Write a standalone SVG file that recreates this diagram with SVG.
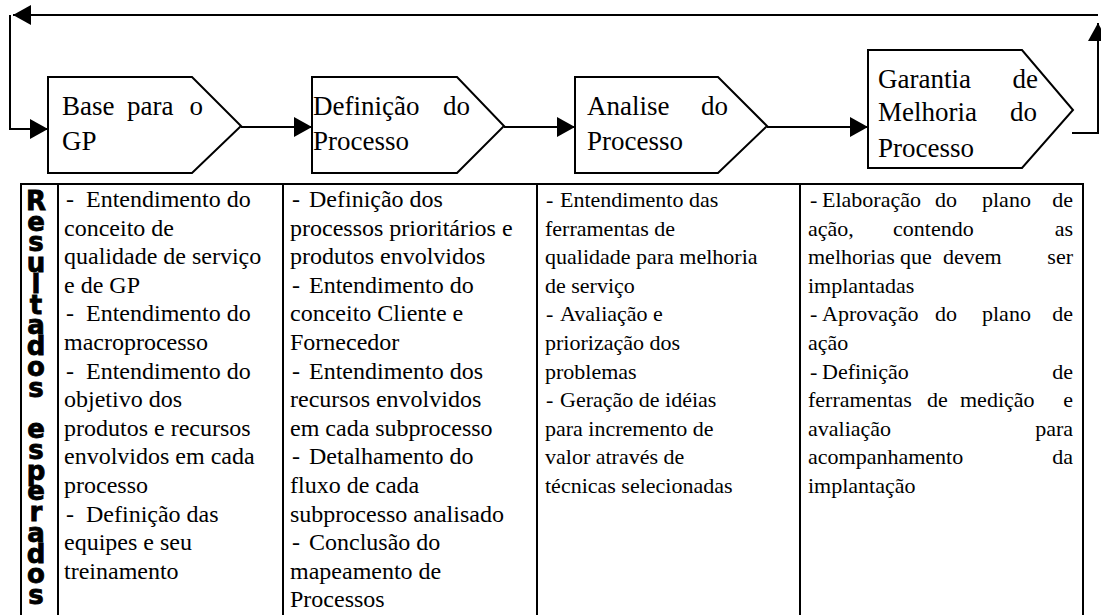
<svg xmlns="http://www.w3.org/2000/svg" width="1101" height="615" viewBox="0 0 1101 615">
<style>
.box{fill:#fff;stroke:#000;stroke-width:2}
.ttl{font-family:"Liberation Serif","Times New Roman",serif;font-size:27px;fill:#000}
.ta{font-family:"Liberation Serif","Times New Roman",serif;font-size:24px;fill:#000}
.tb{font-family:"Liberation Serif","Times New Roman",serif;font-size:22px;fill:#000}
.end{text-anchor:end}
.con{fill:none;stroke:#000;stroke-width:2}
.grid{fill:none;stroke:#000;stroke-width:2}
.vt{font-family:"DejaVu Sans","Liberation Sans",sans-serif;font-weight:bold;font-size:26px;fill:#000;stroke:#000;stroke-width:0.8;writing-mode:vertical-rl;text-orientation:upright}
</style>
<defs>
<marker id="ah" viewBox="0 0 18 20" refX="18" refY="10" markerWidth="18" markerHeight="20" markerUnits="userSpaceOnUse" orient="auto">
<path d="M0,0 L18,10 L0,20 Z" fill="#000"/>
</marker>
</defs>
<rect width="1101" height="615" fill="#fff"/>

<g id="connectors">
<path class="con" d="M1098,15 H13" marker-end="url(#ah)"/>
<path class="con" d="M10,15 V129 H48" marker-end="url(#ah)"/>
<path class="con" d="M241,127 H312" marker-end="url(#ah)"/>
<path class="con" d="M504,127 H575" marker-end="url(#ah)"/>
<path class="con" d="M767,127 H868" marker-end="url(#ah)"/>
<path class="con" d="M1072,133 H1098 V23" marker-end="url(#ah)"/>
</g>

<g id="node-base">
<path class="box" d="M48,77 H192 L241,126 L192,173 H48 Z"/>
<text class="ttl" y="115"><tspan x="62">Base</tspan><tspan x="127">para</tspan><tspan x="203" class="end">o</tspan></text>
<text class="ttl" x="62" y="150">GP</text>
</g>

<g id="node-definicao">
<path class="box" d="M312,77 H457 L504,126 L457,173 H312 Z"/>
<text class="ttl" y="115"><tspan x="313">Definição</tspan><tspan x="470" class="end">do</tspan></text>
<text class="ttl" x="313" y="150">Processo</text>
</g>

<g id="node-analise">
<path class="box" d="M575,77 H718 L767,126 L718,173 H575 Z"/>
<text class="ttl" y="115"><tspan x="587">Analise</tspan><tspan x="728" class="end">do</tspan></text>
<text class="ttl" x="587" y="150">Processo</text>
</g>

<g id="node-garantia">
<path class="box" d="M868,50 H1022 L1073,110 L1022,168 H868 Z"/>
<text class="ttl" y="88"><tspan x="878">Garantia</tspan><tspan x="1038" class="end">de</tspan></text>
<text class="ttl" y="121"><tspan x="878">Melhoria</tspan><tspan x="1037" class="end">do</tspan></text>
<text class="ttl" x="878" y="157">Processo</text>
</g>

<g id="table">
<path class="grid" d="M21,184 H1083 M21,183 V615 M58,184 V615 M283,184 V615 M537,184 V615 M800,184 V615 M1083,183 V615"/>
</g>

<g id="label-resultados">
<text class="vt" x="36" y="186" textLength="424" lengthAdjust="spacing">Resultados esperados</text>
</g>

<g id="col-base">
<text class="ta" y="207"><tspan x="66">-</tspan><tspan x="86">Entendimento do</tspan></text>
<text class="ta" x="64" y="235.6">conceito de</text>
<text class="ta" x="64" y="264.2">qualidade de serviço</text>
<text class="ta" x="64" y="292.8">e de GP</text>
<text class="ta" y="321.4"><tspan x="66">-</tspan><tspan x="86">Entendimento do</tspan></text>
<text class="ta" x="64" y="350">macroprocesso</text>
<text class="ta" y="378.6"><tspan x="66">-</tspan><tspan x="86">Entendimento do</tspan></text>
<text class="ta" x="64" y="407.2">objetivo dos</text>
<text class="ta" x="64" y="435.8">produtos e recursos</text>
<text class="ta" x="64" y="464.4">envolvidos em cada</text>
<text class="ta" x="64" y="493">processo</text>
<text class="ta" y="521.6"><tspan x="66">-</tspan><tspan x="86">Definição das</tspan></text>
<text class="ta" x="64" y="550.2">equipes e seu</text>
<text class="ta" x="64" y="578.8">treinamento</text>
</g>

<g id="col-definicao">
<text class="ta" y="207"><tspan x="292">-</tspan><tspan x="309">Definição dos</tspan></text>
<text class="ta" x="290" y="235.6">processos prioritários e</text>
<text class="ta" x="290" y="264.2">produtos envolvidos</text>
<text class="ta" y="292.8"><tspan x="292">-</tspan><tspan x="309">Entendimento do</tspan></text>
<text class="ta" x="290" y="321.4">conceito Cliente e</text>
<text class="ta" x="290" y="350">Fornecedor</text>
<text class="ta" y="378.6"><tspan x="292">-</tspan><tspan x="309">Entendimento dos</tspan></text>
<text class="ta" x="290" y="407.2">recursos envolvidos</text>
<text class="ta" x="290" y="435.8">em cada subprocesso</text>
<text class="ta" y="464.4"><tspan x="292">-</tspan><tspan x="309">Detalhamento do</tspan></text>
<text class="ta" x="290" y="493">fluxo de cada</text>
<text class="ta" x="290" y="521.6">subprocesso analisado</text>
<text class="ta" y="550.2"><tspan x="292">-</tspan><tspan x="309">Conclusão do</tspan></text>
<text class="ta" x="290" y="578.8">mapeamento de</text>
<text class="ta" x="290" y="607.4">Processos</text>
</g>

<g id="col-analise">
<text class="tb" y="207"><tspan x="546">-</tspan><tspan x="560">Entendimento das</tspan></text>
<text class="tb" x="545" y="235.6">ferramentas de</text>
<text class="tb" x="545" y="264.2">qualidade para melhoria</text>
<text class="tb" x="545" y="292.8">de serviço</text>
<text class="tb" y="321.4"><tspan x="546">-</tspan><tspan x="560">Avaliação e</tspan></text>
<text class="tb" x="545" y="350">priorização dos</text>
<text class="tb" x="545" y="378.6">problemas</text>
<text class="tb" y="407.2"><tspan x="546">-</tspan><tspan x="560">Geração de idéias</tspan></text>
<text class="tb" x="545" y="435.8">para incremento de</text>
<text class="tb" x="545" y="464.4">valor através de</text>
<text class="tb" x="545" y="493">técnicas selecionadas</text>
</g>

<g id="col-garantia">
<text class="tb" y="207"><tspan x="810">-</tspan><tspan x="822">Elaboração</tspan><tspan x="935">do</tspan><tspan x="982">plano</tspan><tspan x="1073" class="end">de</tspan></text>
<text class="tb" y="235.6"><tspan x="808">ação,</tspan><tspan x="893">contendo</tspan><tspan x="1073" class="end">as</tspan></text>
<text class="tb" y="264.2"><tspan x="808">melhorias</tspan><tspan x="900">que</tspan><tspan x="943">devem</tspan><tspan x="1073" class="end">ser</tspan></text>
<text class="tb" x="808" y="292.8">implantadas</text>
<text class="tb" y="321.4"><tspan x="810">-</tspan><tspan x="822">Aprovação</tspan><tspan x="935">do</tspan><tspan x="982">plano</tspan><tspan x="1073" class="end">de</tspan></text>
<text class="tb" x="808" y="350">ação</text>
<text class="tb" y="378.6"><tspan x="810">-</tspan><tspan x="822">Definição</tspan><tspan x="1073" class="end">de</tspan></text>
<text class="tb" y="407.2"><tspan x="808">ferramentas</tspan><tspan x="927">de</tspan><tspan x="960">medição</tspan><tspan x="1073" class="end">e</tspan></text>
<text class="tb" y="435.8"><tspan x="808">avaliação</tspan><tspan x="1073" class="end">para</tspan></text>
<text class="tb" y="464.4"><tspan x="808">acompanhamento</tspan><tspan x="1073" class="end">da</tspan></text>
<text class="tb" x="808" y="493">implantação</text>
</g>
</svg>
